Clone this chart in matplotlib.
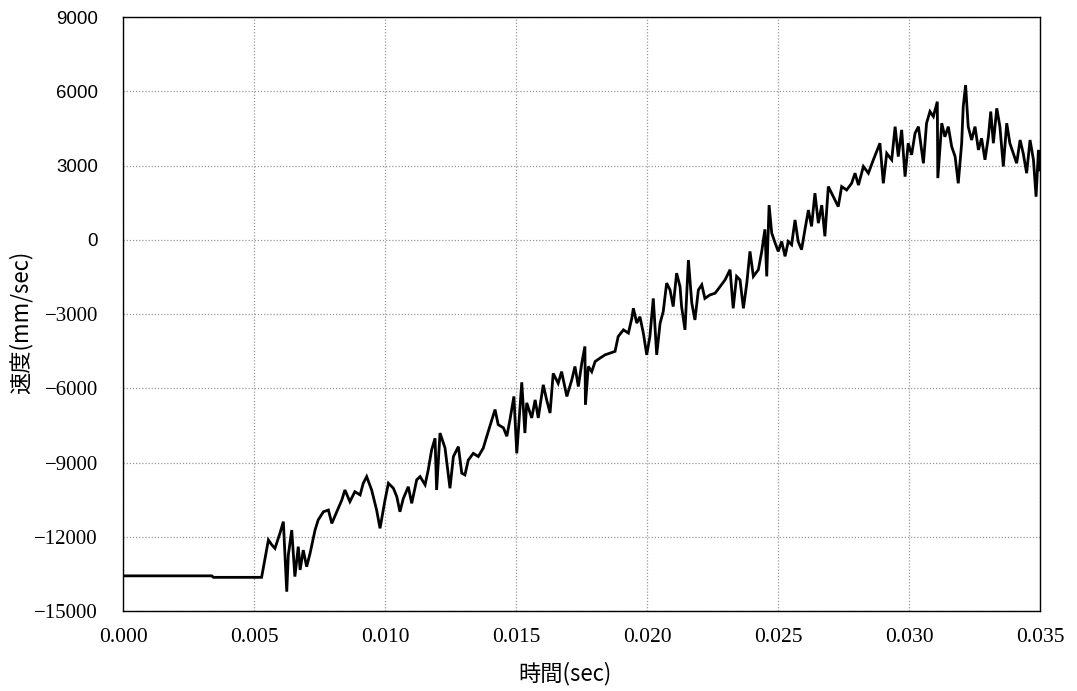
import matplotlib
matplotlib.use("Agg")
import matplotlib.pyplot as plt

# ---- data (time in s, velocity in mm/s) ----
time_s = [
    0.0, 0.00339, 0.00345, 0.00529,
    0.00555, 0.00568, 0.00580, 0.00599, 0.00612, 0.00625, 0.00631, 0.00644, 0.00656, 0.00669,
    0.00676, 0.00688, 0.00701, 0.00714, 0.00733, 0.00745, 0.00765, 0.00784, 0.00797, 0.00816,
    0.00835, 0.00847, 0.00866, 0.00885, 0.00905, 0.00917, 0.00930, 0.00949, 0.00968, 0.00981,
    0.01000, 0.01013, 0.01032, 0.01045, 0.01057, 0.01070, 0.01089, 0.01102, 0.01121, 0.01134,
    0.01153, 0.01165, 0.01178, 0.01191, 0.01197, 0.01210, 0.01229, 0.01248, 0.01261, 0.01280,
    0.01293, 0.01305, 0.01318, 0.01337, 0.01356, 0.01375, 0.01394, 0.01420, 0.01432, 0.01452,
    0.01465, 0.01477, 0.01492, 0.01503, 0.01522, 0.01534, 0.01541, 0.01560, 0.01573, 0.01585,
    0.01604, 0.01617, 0.01630,
    0.01642, 0.01661, 0.01674, 0.01694, 0.01713, 0.01725, 0.01738, 0.01751, 0.01763, 0.01765,
    0.01776, 0.01789, 0.01802, 0.01821, 0.01840, 0.01859, 0.01878, 0.01890, 0.01910, 0.01929,
    0.01942, 0.01948, 0.01961, 0.01973, 0.01986, 0.01999, 0.02011, 0.02024, 0.02037, 0.02050,
    0.02062, 0.02075, 0.02088, 0.02100, 0.02113, 0.02126,
    0.02132, 0.02145, 0.02158, 0.02171, 0.02183, 0.02196, 0.02209, 0.02221, 0.02240, 0.02260,
    0.02279, 0.02298, 0.02317, 0.02329, 0.02342, 0.02355, 0.02368, 0.02381, 0.02393, 0.02406,
    0.02425, 0.02438, 0.02450, 0.02457, 0.02466, 0.02476, 0.02489, 0.02501, 0.02514, 0.02527,
    0.02539, 0.02552, 0.02565, 0.02577, 0.02590, 0.02603, 0.02616, 0.02628, 0.02641, 0.02654,
    0.02667, 0.02679, 0.02692, 0.02711, 0.02730, 0.02743, 0.02762, 0.02781,
    0.02794, 0.02807, 0.02826, 0.02845, 0.02864, 0.02889, 0.02902, 0.02915, 0.02934, 0.02947,
    0.02959, 0.02972, 0.02985, 0.02997, 0.03010, 0.03023, 0.03036, 0.03055, 0.03067, 0.03080,
    0.03093, 0.03108, 0.03110, 0.03125, 0.03137, 0.03150, 0.03163, 0.03176, 0.03188, 0.03201,
    0.03207, 0.03216, 0.03226, 0.03239, 0.03252, 0.03265, 0.03277, 0.03290, 0.03303, 0.03312,
    0.03322, 0.03335, 0.03347, 0.03360, 0.03373, 0.03385, 0.03398, 0.03411, 0.03424, 0.03436,
    0.03449, 0.03462, 0.03475, 0.03485, 0.03494, 0.03500,
]
velocity = [
    -13580, -13580, -13640, -13640,
    -12130, -12330, -12470, -11860, -11390, -14220, -12740, -11730, -13610, -12400,
    -13340, -12540, -13210, -12670, -11730, -11320, -10990, -10920, -11460, -10990,
    -10520, -10110, -10580, -10180, -10310, -9840, -9570, -10110, -10920, -11660,
    -10520, -9840, -10040, -10380, -10990, -10450, -9980, -10650, -9700, -9570,
    -9900, -9300, -8490, -8020, -10110, -7810, -8410, -10040, -8760, -8360,
    -9430, -9500, -8900, -8630, -8760, -8420, -7750, -6860, -7470, -7600,
    -7940, -7270, -6330, -8630, -5760, -7810, -6590, -7200, -6470, -7200,
    -5860, -6470, -7000,
    -5400, -5800, -5330, -6330, -5660, -5120, -5930, -4990, -4310, -6670,
    -5120, -5330, -4920, -4780, -4650, -4580, -4510, -3910, -3640, -3770,
    -3170, -2770, -3370, -3110, -3770, -4650, -3910, -2370, -4650, -3370,
    -2900, -1750, -2030, -2700, -1350, -1890,
    -2700, -3640, -820, -2560, -3240, -2030, -1820, -2370, -2230, -2160,
    -1890, -1620, -1210, -2770, -1480, -1620, -2770, -1750, -470, -1480,
    -1210, -470, 420, -1480, 1400, 270, -130, -470, -70, -670,
    -70, -200, 800, -70, -400, 420, 1200, 540, 1880, 670,
    1400, 140, 2150, 1740, 1340, 2150, 2010, 2280,
    2690, 2210, 2960, 2690, 3230, 3900, 2280, 3490, 3230, 4570,
    3360, 4440, 2550, 3900, 3430, 4300, 4570, 3090, 4710, 5180,
    4980, 5580, 2490, 4710, 4160, 4570, 3760, 3360, 2280, 3900,
    5380, 6250, 4570, 4030, 4570, 3630, 4100, 3230, 4160, 5180,
    3900, 5310, 4570, 2960, 4710, 3900, 3490, 3090, 4030, 3490,
    2690, 4030, 3230, 1740, 3630, 2820,
]

x_ticks = [0.000, 0.005, 0.010, 0.015, 0.020, 0.025, 0.030, 0.035]
x_tick_labels = ["0.000", "0.005", "0.010", "0.015", "0.020", "0.025", "0.030", "0.035"]
y_ticks = [-15000, -12000, -9000, -6000, -3000, 0, 3000, 6000, 9000]
y_tick_labels = ["\u221215000", "\u221212000", "\u22129000", "\u22126000", "\u22123000",
                 "0", "3000", "6000", "9000"]
x_label = "時間(sec)"
y_label = "速度(mm/sec)"

# ---- figure ----
fig = plt.figure(figsize=(10.77, 6.91), dpi=100)
ax = fig.add_axes([123 / 1077, 1 - 611 / 691, (1040 - 123) / 1077, (611 - 17) / 691])

ax.plot(time_s, velocity, color="black", linewidth=2.0, solid_joinstyle="miter", zorder=3)

ax.set_xlim(0, 0.035)
ax.set_ylim(-15000, 9000)
ax.set_xticks(x_ticks)
ax.set_xticklabels(x_tick_labels, family=["Liberation Serif"], fontsize=15.5)
ax.set_yticks(y_ticks)
ax.set_yticklabels(y_tick_labels, family=["Liberation Serif", "DejaVu Serif"], fontsize=15)
for lbl, v in zip(ax.get_yticklabels(), y_ticks):
    if v >= 0:
        lbl.set_family(["Liberation Sans"])
        lbl.set_fontsize(13.5)

ax.tick_params(axis="both", length=0)
ax.tick_params(axis="x", pad=12)
ax.tick_params(axis="y", pad=18)

ax.grid(True, color="#9a9a9a", linestyle=(0, (1, 1.5)), linewidth=0.9, zorder=0)
for s in ax.spines.values():
    s.set_color("black")
    s.set_linewidth(1.0)

fig.text(565 / 1077, 1 - 674 / 691, x_label, ha="center", va="center",
         fontsize=16, family=["Noto Sans CJK JP", "DejaVu Sans"])
fig.text(21 / 1077, 1 - 322 / 691, y_label, ha="center", va="center", rotation=90,
         fontsize=16, family=["Noto Sans CJK JP", "DejaVu Sans"])

fig.savefig("out.png", dpi=100, facecolor="white")
